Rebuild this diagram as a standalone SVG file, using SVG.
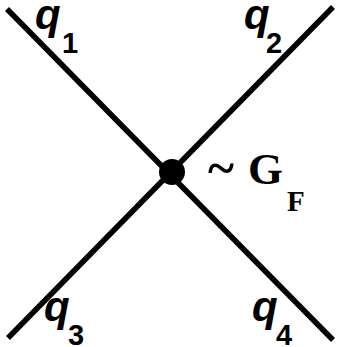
<svg xmlns="http://www.w3.org/2000/svg" width="339" height="347" viewBox="0 0 339 347">
<style>
.ln{stroke:#000;stroke-width:5.5;stroke-linecap:butt;fill:none}
.q{font-family:"Liberation Sans",Arial,sans-serif;font-weight:bold;font-style:italic;font-size:42px;fill:#000}
.qs{font-family:"Liberation Sans",Arial,sans-serif;font-weight:bold;font-size:29px;fill:#000}
.g{font-family:"Liberation Serif","Times New Roman",serif;font-weight:bold;font-size:45px;fill:#000}
.gs{font-family:"Liberation Serif","Times New Roman",serif;font-weight:bold;font-size:29px;fill:#000}
.t{font-family:"Liberation Serif","Times New Roman",serif;font-weight:bold;font-size:50px;fill:#000}
</style>
<rect width="339" height="347" fill="#fff"/>
<g id="connectors">
<line class="ln" x1="7" y1="9" x2="333" y2="340"/>
<line class="ln" x1="333" y1="7" x2="8" y2="338"/>
</g>
<g id="vertex">
<circle cx="172" cy="172" r="13" fill="#000"/>
</g>
<g id="q1"><text class="q" x="35" y="29">q</text><text class="qs" x="62" y="53">1</text></g>
<g id="q2"><text class="q" x="244" y="29">q</text><text class="qs" x="266" y="53">2</text></g>
<g id="q3"><text class="q" x="44" y="321">q</text><text class="qs" x="68" y="345">3</text></g>
<g id="q4"><text class="q" x="252" y="321">q</text><text class="qs" x="276" y="345">4</text></g>
<g id="gf"><text class="t" x="208" y="185">~</text><text class="g" x="248" y="184">G</text><text class="gs" x="287" y="211">F</text></g>
</svg>
